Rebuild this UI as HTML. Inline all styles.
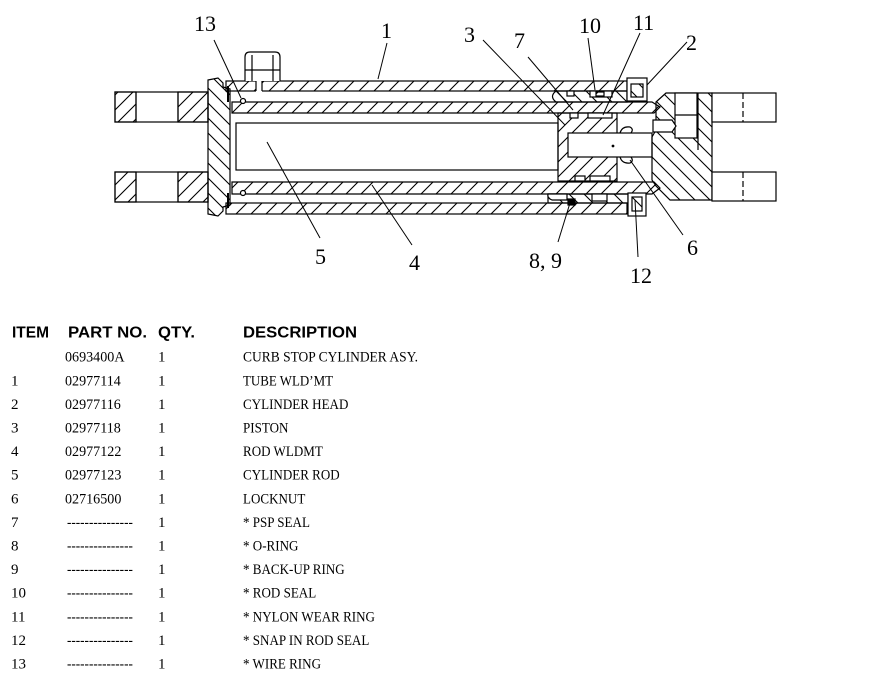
<!DOCTYPE html>
<html><head><meta charset="utf-8">
<style>
html,body{margin:0;padding:0;background:#fff;}
svg{display:block;}
.lb{font-family:"Liberation Serif",serif;font-size:22px;fill:#000;}
.hd{font-family:"Liberation Sans",sans-serif;font-weight:bold;font-size:16px;fill:#000;}
.td{font-family:"Liberation Serif",serif;font-size:15px;fill:#000;}
</style></head>
<body>
<svg width="881" height="682" viewBox="0 0 881 682" xmlns="http://www.w3.org/2000/svg">
<defs>
<pattern id="hf" patternUnits="userSpaceOnUse" width="15" height="15">
<path d="M-3,3 L3,-3 M0,15 L15,0 M12,18 L18,12" stroke="#000" stroke-width="1.1" fill="none"/>
</pattern>
<pattern id="hb" patternUnits="userSpaceOnUse" width="15" height="15">
<path d="M-3,12 L3,18 M0,0 L15,15 M12,-3 L18,3" stroke="#000" stroke-width="1.1" fill="none"/>
</pattern>
</defs>
<rect width="881" height="682" fill="#fff"/>

<g stroke="#000" stroke-width="1.2" fill="none">
<!-- left clevis plates -->
<rect x="115" y="92" width="21" height="30" fill="url(#hf)"/>
<rect x="178" y="92" width="30" height="30" fill="url(#hf)"/>
<rect x="115" y="92" width="93" height="30"/>
<line x1="136" y1="92" x2="136" y2="122"/>
<line x1="178" y1="92" x2="178" y2="122"/>
<rect x="115" y="172" width="21" height="30" fill="url(#hf)"/>
<rect x="178" y="172" width="30" height="30" fill="url(#hf)"/>
<rect x="115" y="172" width="93" height="30"/>
<line x1="136" y1="172" x2="136" y2="202"/>
<line x1="178" y1="172" x2="178" y2="202"/>

<!-- left end cap -->
<path d="M208,80 L218,78 L223,83 L223,87 L230,89 L230,205 L223,207 L223,211 L218,216 L208,214 Z" fill="url(#hb)"/>

<!-- tube walls -->
<rect x="226" y="81" width="401" height="10" fill="url(#hf)"/>
<rect x="226" y="203" width="401" height="11" fill="url(#hf)"/>
<line x1="228" y1="86" x2="228" y2="102" stroke-width="2"/>
<line x1="228" y1="193" x2="228" y2="208" stroke-width="2"/>

<!-- port fitting -->
<rect x="256" y="80" width="6" height="12" fill="#fff" stroke="none"/>
<line x1="256" y1="81" x2="256" y2="91"/>
<line x1="262" y1="81" x2="262" y2="91"/>
<path d="M245,81 L245,57 Q245,52 250,52 L275,52 Q280,52 280,57 L280,81" fill="#fff"/>
<line x1="245" y1="70" x2="280" y2="70"/>
<line x1="252" y1="55" x2="252" y2="81"/>
<line x1="273" y1="55" x2="273" y2="81"/>

<!-- rod 4 bands -->
<path d="M232,102 L652,102 L660,107 L654,113 L232,113 Z" fill="url(#hf)"/>
<path d="M232,182 L654,182 L660,188 L652,194 L232,194 Z" fill="url(#hf)"/>

<!-- rod 5 -->
<rect x="236" y="123" width="322" height="47" fill="#fff"/>

<!-- piston -->
<rect x="558" y="113" width="59" height="68" fill="url(#hf)"/>
<rect x="568" y="133" width="84" height="24" fill="#fff"/>
<rect x="570" y="113" width="8" height="5" fill="#fff"/>
<rect x="588" y="113" width="24" height="5" fill="#fff"/>
<rect x="575" y="176" width="10" height="5" fill="#fff"/>
<rect x="590" y="176" width="20" height="5" fill="#fff"/>
<path d="M620,133 Q622,126 630,127 Q634,129 631,133"/>
<path d="M620,157 Q622,164 630,163 Q634,161 631,157"/>
<circle cx="613" cy="146" r="0.8" fill="#000"/>

<!-- top gland -->
<path d="M556,91 L627,91 L627,102 L556,102 Q549,96.5 556,91 Z" fill="url(#hb)"/>
<rect x="567" y="91" width="7" height="5" fill="#fff"/>
<rect x="590" y="91" width="22" height="6" fill="#fff"/>
<rect x="596" y="92" width="8" height="4" fill="url(#hf)"/>
<!-- head item 2 top -->
<rect x="627" y="78" width="20" height="23" fill="#fff"/>
<rect x="631" y="84" width="12" height="13" fill="url(#hb)"/>

<!-- bottom gland -->
<path d="M548,194 L628,194 L628,203 L548,203 Z" fill="url(#hb)"/>
<path d="M548,194 L567,194 L567,200 L552,200 Q547,198 548,194 Z" fill="#fff"/>
<rect x="568" y="199" width="7" height="6" fill="#000"/>
<rect x="592" y="194" width="15" height="7" fill="#fff"/>
<rect x="628" y="193" width="18" height="23" fill="#fff"/>
<rect x="632" y="197" width="10" height="14" fill="url(#hb)"/>

<!-- right block -->
<path d="M656,102 L666,93 L712,93 L712,200 L670,200 L656,186 L652,180 L652,137 L656,130 Z" fill="url(#hb)"/>
<rect x="675" y="93" width="22" height="45" fill="#fff"/>
<line x1="675" y1="115" x2="697" y2="115"/>
<line x1="698" y1="93" x2="698" y2="150"/>
<path d="M653,120 L672,120 L676,126 L672,132 L653,132 Z" fill="#fff"/>

<!-- right clevis plates -->
<rect x="712" y="93" width="64" height="29" fill="#fff"/>
<rect x="712" y="172" width="64" height="29" fill="#fff"/>
<line x1="743" y1="93" x2="743" y2="122" stroke-dasharray="6,3"/>
<line x1="743" y1="172" x2="743" y2="201" stroke-dasharray="6,3"/>

<!-- wire rings -->
<circle cx="243" cy="101" r="2.5" fill="#fff"/>
<circle cx="243" cy="193" r="2.5" fill="#fff"/>
</g>

<!-- leader lines -->
<g stroke="#000" stroke-width="1" fill="none">
<line x1="214" y1="40" x2="241" y2="98"/>
<line x1="387" y1="43" x2="378" y2="79"/>
<line x1="267" y1="142" x2="320" y2="238"/>
<line x1="372" y1="185" x2="412" y2="245"/>
<line x1="483" y1="40" x2="565" y2="125"/>
<line x1="528" y1="57" x2="573" y2="110"/>
<line x1="588" y1="38" x2="595" y2="90"/>
<line x1="640" y1="33" x2="603" y2="115"/>
<line x1="687" y1="42" x2="647" y2="85"/>
<line x1="683" y1="235" x2="630" y2="160"/>
<line x1="558" y1="242" x2="570" y2="203"/>
<line x1="638" y1="257" x2="635" y2="200"/>
</g>

<!-- labels -->
<text class="lb" x="194" y="31">13</text>
<text class="lb" x="381" y="38">1</text>
<text class="lb" x="464" y="42">3</text>
<text class="lb" x="514" y="48">7</text>
<text class="lb" x="579" y="33">10</text>
<text class="lb" x="633" y="30">11</text>
<text class="lb" x="686" y="50">2</text>
<text class="lb" x="315" y="264">5</text>
<text class="lb" x="409" y="270">4</text>
<text class="lb" x="529" y="268">8, 9</text>
<text class="lb" x="630" y="283">12</text>
<text class="lb" x="687" y="255">6</text>

<!-- table header -->
<text class="hd" x="12" y="337.5" textLength="37" lengthAdjust="spacingAndGlyphs">ITEM</text>
<text class="hd" x="68" y="337.5" textLength="79" lengthAdjust="spacingAndGlyphs">PART NO.</text>
<text class="hd" x="158" y="337.5" textLength="37" lengthAdjust="spacingAndGlyphs">QTY.</text>
<text class="hd" x="243" y="337.5" textLength="114" lengthAdjust="spacingAndGlyphs">DESCRIPTION</text>

<!-- rows -->
<g class="td">
<text class="td" transform="translate(65,361.7) scale(0.94,1)">0693400A</text>
<text class="td" x="158" y="361.7">1</text>
<text class="td" x="243" y="361.7" textLength="175" lengthAdjust="spacingAndGlyphs">CURB STOP CYLINDER ASY.</text>

<text class="td" x="11" y="385.3">1</text>
<text class="td" transform="translate(65,385.3) scale(0.94,1)">02977114</text>
<text class="td" x="158" y="385.3">1</text>
<text class="td" x="243" y="385.3" textLength="90" lengthAdjust="spacingAndGlyphs">TUBE WLD’MT</text>

<text class="td" x="11" y="408.9">2</text>
<text class="td" transform="translate(65,408.9) scale(0.94,1)">02977116</text>
<text class="td" x="158" y="408.9">1</text>
<text class="td" transform="translate(243,408.9) scale(0.87,1)">CYLINDER HEAD</text>

<text class="td" x="11" y="432.5">3</text>
<text class="td" transform="translate(65,432.5) scale(0.94,1)">02977118</text>
<text class="td" x="158" y="432.5">1</text>
<text class="td" transform="translate(243,432.5) scale(0.87,1)">PISTON</text>

<text class="td" x="11" y="456.1">4</text>
<text class="td" transform="translate(65,456.1) scale(0.94,1)">02977122</text>
<text class="td" x="158" y="456.1">1</text>
<text class="td" transform="translate(243,456.1) scale(0.87,1)">ROD WLDMT</text>

<text class="td" x="11" y="479.7">5</text>
<text class="td" transform="translate(65,479.7) scale(0.94,1)">02977123</text>
<text class="td" x="158" y="479.7">1</text>
<text class="td" transform="translate(243,479.7) scale(0.87,1)">CYLINDER ROD</text>

<text class="td" x="11" y="503.3">6</text>
<text class="td" transform="translate(65,503.3) scale(0.94,1)">02716500</text>
<text class="td" x="158" y="503.3">1</text>
<text class="td" transform="translate(243,503.3) scale(0.87,1)">LOCKNUT</text>

<text class="td" x="11" y="526.9">7</text>
<text class="td" transform="translate(67,526.9) scale(0.88,1)">---------------</text>
<text class="td" x="158" y="526.9">1</text>
<text class="td" transform="translate(243,526.9) scale(0.87,1)">* PSP SEAL</text>

<text class="td" x="11" y="550.5">8</text>
<text class="td" transform="translate(67,550.5) scale(0.88,1)">---------------</text>
<text class="td" x="158" y="550.5">1</text>
<text class="td" transform="translate(243,550.5) scale(0.87,1)">* O-RING</text>

<text class="td" x="11" y="574.1">9</text>
<text class="td" transform="translate(67,574.1) scale(0.88,1)">---------------</text>
<text class="td" x="158" y="574.1">1</text>
<text class="td" transform="translate(243,574.1) scale(0.87,1)">* BACK-UP RING</text>

<text class="td" x="11" y="597.7">10</text>
<text class="td" transform="translate(67,597.7) scale(0.88,1)">---------------</text>
<text class="td" x="158" y="597.7">1</text>
<text class="td" transform="translate(243,597.7) scale(0.87,1)">* ROD SEAL</text>

<text class="td" x="11" y="621.3">11</text>
<text class="td" transform="translate(67,621.3) scale(0.88,1)">---------------</text>
<text class="td" x="158" y="621.3">1</text>
<text class="td" transform="translate(243,621.3) scale(0.87,1)">* NYLON WEAR RING</text>

<text class="td" x="11" y="644.9">12</text>
<text class="td" transform="translate(67,644.9) scale(0.88,1)">---------------</text>
<text class="td" x="158" y="644.9">1</text>
<text class="td" transform="translate(243,644.9) scale(0.87,1)">* SNAP IN ROD SEAL</text>

<text class="td" x="11" y="668.5">13</text>
<text class="td" transform="translate(67,668.5) scale(0.88,1)">---------------</text>
<text class="td" x="158" y="668.5">1</text>
<text class="td" transform="translate(243,668.5) scale(0.87,1)">* WIRE RING</text>
</g>
</svg>
</body></html>
